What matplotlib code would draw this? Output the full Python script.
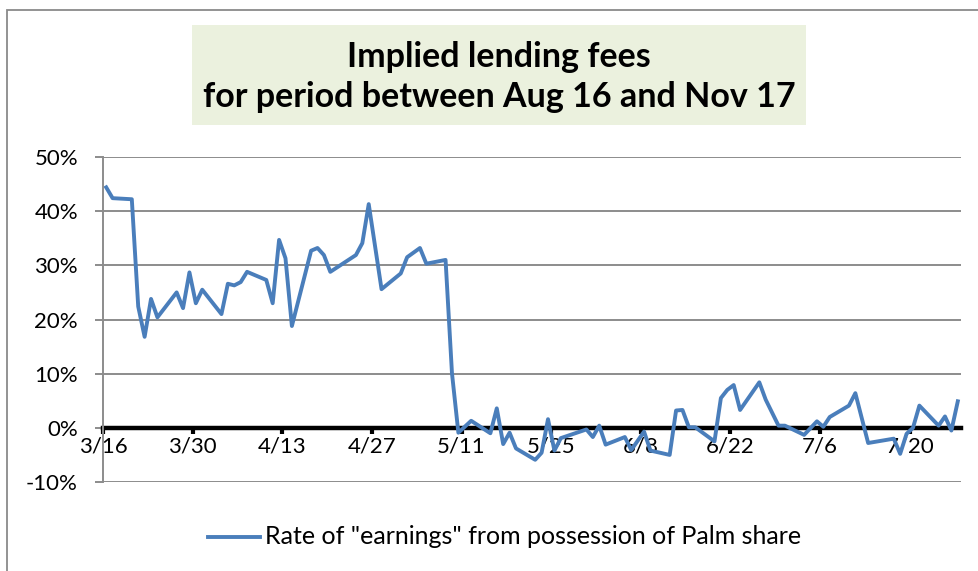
import matplotlib
matplotlib.use("Agg")
import matplotlib.pyplot as plt
import pandas as pd
from matplotlib.patches import Rectangle
from matplotlib.lines import Line2D

# trading days (2000) and implied rate in percent
dates = [
    "3/16", "3/17", "3/20", "3/21", "3/22", "3/23", "3/24", "3/27", "3/28", "3/29",
    "3/30", "3/31", "4/3", "4/4", "4/5", "4/6", "4/7", "4/10", "4/11", "4/12",
    "4/13", "4/14", "4/17", "4/18", "4/19", "4/20", "4/24", "4/25", "4/26", "4/28",
    "5/1", "5/2", "5/4", "5/5", "5/8", "5/9", "5/10", "5/12", "5/15", "5/16",
    "5/17", "5/18", "5/19", "5/22", "5/23", "5/24", "5/25", "5/26", "5/30", "5/31",
    "6/1", "6/2", "6/5", "6/6", "6/8", "6/9", "6/12", "6/13", "6/14", "6/15",
    "6/16", "6/19", "6/20", "6/21", "6/22", "6/23", "6/26", "6/27", "6/29", "6/30",
    "7/3", "7/5", "7/6", "7/7", "7/10", "7/11", "7/13", "7/17", "7/18", "7/19",
    "7/20", "7/21", "7/24", "7/25", "7/26", "7/27",
]
rate = [
    44.4, 42.4, 42.2, 22.4, 16.8, 23.8, 20.4, 25.0, 22.1, 28.7,
    23.0, 25.5, 21.0, 26.6, 26.3, 26.9, 28.8, 27.3, 23.0, 34.7,
    31.3, 18.8, 32.7, 33.2, 31.9, 28.8, 31.9, 34.1, 41.3, 25.6,
    28.5, 31.5, 33.2, 30.3, 31.0, 10.1, -0.9, 1.3, -1.0, 3.6,
    -3.0, -0.9, -3.8, -5.9, -4.6, 1.6, -4.2, -1.9, -0.3, -1.7,
    0.4, -3.1, -1.7, -4.1, -0.7, -4.2, -5.0, 3.2, 3.3, 0.1,
    0.1, -2.5, 5.5, 7.0, 7.9, 3.3, 8.4, 5.2, 0.4, 0.4,
    -1.3, 1.2, 0.2, 2.0, 4.1, 6.4, -2.8, -2.0, -4.8, -1.1,
    0.0, 4.1, 0.4, 2.1, -0.5, 4.9,
]
tick_labels = ["3/16", "3/30", "4/13", "4/27", "5/11", "5/25", "6/8", "6/22", "7/6", "7/20"]
y_ticks = [-10, 0, 10, 20, 30, 40, 50]

title = "Implied lending fees\nfor period between Aug 16 and Nov 17"
series_name = 'Rate of "earnings" from possession of Palm share'

LINE_BLUE = "#4A7EBB"
GRID_GRAY = "#8C8C8C"

plt.rcParams["font.family"] = ["Lato", "DejaVu Sans"]

# Excel date axis: each point sits in the middle of its day
x = pd.to_datetime(["2000/" + d for d in dates]) + pd.Timedelta(hours=12)
ticks = pd.to_datetime(["2000/" + d for d in tick_labels])

fig = plt.figure(figsize=(9.79, 5.71), dpi=100)

# chart-area border (right and bottom edges are cropped off in the original)
fig.patches.append(Rectangle((7 / 979, -0.1), 1.2, 1.1 - 10 / 571,
                             transform=fig.transFigure, fill=False,
                             edgecolor="#8A8A8A", linewidth=1.3))

ax = fig.add_axes([103 / 979, 1 - 482 / 571, (961 - 103) / 979, (482 - 157) / 571])

ax.plot(x, rate, color=LINE_BLUE, linewidth=2.8, solid_joinstyle="round")

ax.set_xlim(pd.Timestamp("2000-03-16"), pd.Timestamp("2000-07-28"))
ax.set_ylim(-10, 50)

ax.set_yticks(y_ticks)
ax.set_yticklabels([f"{v}%" for v in y_ticks])
ax.grid(axis="y", color=GRID_GRAY, linewidth=1.4)
ax.set_axisbelow(True)

ax.set_xticks(ticks)
ax.set_xticklabels(tick_labels)

for s in ["top", "right"]:
    ax.spines[s].set_visible(False)
ax.spines["left"].set_color(GRID_GRAY)
ax.spines["left"].set_linewidth(1.4)
ax.spines["bottom"].set_position(("data", 0))
ax.spines["bottom"].set_color("black")
ax.spines["bottom"].set_linewidth(3.2)
ax.spines["bottom"].set_zorder(1.5)

ax.tick_params(axis="y", length=6, width=1.4, color=GRID_GRAY, pad=12, labelsize=16)
ax.tick_params(axis="x", length=4, width=3, color="black", pad=2, labelsize=16)

# title in a shaded box
fig.patches.append(Rectangle((192 / 979, 1 - 125 / 571), (806 - 192) / 979, 100 / 571,
                             transform=fig.transFigure, facecolor="#EBF1DE",
                             edgecolor="none"))
fig.text(499 / 979, 1 - 77 / 571, title, ha="center", va="center",
         fontsize=24.5, fontweight="bold", linespacing=1.3)

# legend
fig.lines.append(Line2D([208 / 979, 260 / 979], [1 - 537 / 571, 1 - 537 / 571],
                        transform=fig.transFigure, color=LINE_BLUE, linewidth=2.8))
fig.text(265 / 979, 1 - 537 / 571, series_name, ha="left", va="center", fontsize=18)

fig.savefig("out.png", dpi=100)
